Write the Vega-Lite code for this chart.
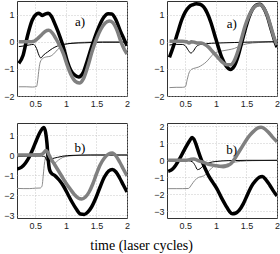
{
  "$schema": "https://vega.github.io/schema/vega-lite/v6.json",
  "padding": {"left": 3, "top": 0, "right": 0, "bottom": 0},
  "title": {"text": "time (laser cycles)", "orient": "bottom", "anchor": "middle", "font": "Liberation Serif", "fontSize": 14, "fontWeight": "normal", "color": "#000", "offset": 8},
  "datasets": {
    "lines": [
      {"p":"A1","s":"1tg","x":0.23,"y":-1.66},{"p":"A1","s":"1tg","x":0.35,"y":-1.66},{"p":"A1","s":"1tg","x":0.45,"y":-1.67},{"p":"A1","s":"1tg","x":0.52,"y":-1.65},{"p":"A1","s":"1tg","x":0.54,"y":-1.4},{"p":"A1","s":"1tg","x":0.56,"y":-1.0},{"p":"A1","s":"1tg","x":0.58,"y":-0.75},{"p":"A1","s":"1tg","x":0.62,"y":-0.62},{"p":"A1","s":"1tg","x":0.68,"y":-0.56},{"p":"A1","s":"1tg","x":0.74,"y":-0.54},{"p":"A1","s":"1tg","x":0.8,"y":-0.45},{"p":"A1","s":"1tg","x":0.86,"y":-0.3},{"p":"A1","s":"1tg","x":0.92,"y":-0.18},{"p":"A1","s":"1tg","x":1.0,"y":-0.1},{"p":"A1","s":"1tg","x":1.1,"y":-0.05},{"p":"A1","s":"1tg","x":1.3,"y":-0.02},{"p":"A1","s":"1tg","x":1.6,"y":0},{"p":"A1","s":"1tg","x":2.0,"y":0},
      {"p":"A1","s":"2tb","x":0.23,"y":-0.18},{"p":"A1","s":"2tb","x":0.3,"y":-0.16},{"p":"A1","s":"2tb","x":0.4,"y":-0.12},{"p":"A1","s":"2tb","x":0.47,"y":-0.1},{"p":"A1","s":"2tb","x":0.52,"y":-0.25},{"p":"A1","s":"2tb","x":0.56,"y":-0.5},{"p":"A1","s":"2tb","x":0.59,"y":-0.6},{"p":"A1","s":"2tb","x":0.63,"y":-0.5},{"p":"A1","s":"2tb","x":0.7,"y":-0.38},{"p":"A1","s":"2tb","x":0.78,"y":-0.25},{"p":"A1","s":"2tb","x":0.86,"y":-0.16},{"p":"A1","s":"2tb","x":0.95,"y":-0.1},{"p":"A1","s":"2tb","x":1.1,"y":-0.06},{"p":"A1","s":"2tb","x":1.3,"y":-0.04},{"p":"A1","s":"2tb","x":1.6,"y":-0.02},{"p":"A1","s":"2tb","x":2.0,"y":-0.02},
      {"p":"A1","s":"3kb","x":0.23,"y":-0.8},{"p":"A1","s":"3kb","x":0.3,"y":-0.5},{"p":"A1","s":"3kb","x":0.37,"y":0.2},{"p":"A1","s":"3kb","x":0.45,"y":0.8},{"p":"A1","s":"3kb","x":0.52,"y":1.02},{"p":"A1","s":"3kb","x":0.56,"y":1.05},{"p":"A1","s":"3kb","x":0.61,"y":0.97},{"p":"A1","s":"3kb","x":0.66,"y":1.02},{"p":"A1","s":"3kb","x":0.71,"y":1.05},{"p":"A1","s":"3kb","x":0.76,"y":0.95},{"p":"A1","s":"3kb","x":0.83,"y":0.6},{"p":"A1","s":"3kb","x":0.9,"y":0.2},{"p":"A1","s":"3kb","x":0.96,"y":-0.2},{"p":"A1","s":"3kb","x":1.02,"y":-0.7},{"p":"A1","s":"3kb","x":1.08,"y":-1.05},{"p":"A1","s":"3kb","x":1.14,"y":-1.22},{"p":"A1","s":"3kb","x":1.21,"y":-1.3},{"p":"A1","s":"3kb","x":1.28,"y":-1.15},{"p":"A1","s":"3kb","x":1.35,"y":-0.7},{"p":"A1","s":"3kb","x":1.42,"y":-0.2},{"p":"A1","s":"3kb","x":1.48,"y":0.2},{"p":"A1","s":"3kb","x":1.55,"y":0.6},{"p":"A1","s":"3kb","x":1.62,"y":0.9},{"p":"A1","s":"3kb","x":1.69,"y":1.03},{"p":"A1","s":"3kb","x":1.75,"y":1.02},{"p":"A1","s":"3kb","x":1.82,"y":0.8},{"p":"A1","s":"3kb","x":1.89,"y":0.4},{"p":"A1","s":"3kb","x":1.95,"y":0.1},{"p":"A1","s":"3kb","x":2.0,"y":-0.15},
      {"p":"A1","s":"4kg","x":0.23,"y":0},{"p":"A1","s":"4kg","x":0.3,"y":0},{"p":"A1","s":"4kg","x":0.4,"y":0},{"p":"A1","s":"4kg","x":0.48,"y":0.02},{"p":"A1","s":"4kg","x":0.53,"y":0.1},{"p":"A1","s":"4kg","x":0.6,"y":0.25},{"p":"A1","s":"4kg","x":0.66,"y":0.38},{"p":"A1","s":"4kg","x":0.72,"y":0.42},{"p":"A1","s":"4kg","x":0.78,"y":0.32},{"p":"A1","s":"4kg","x":0.84,"y":0.1},{"p":"A1","s":"4kg","x":0.9,"y":-0.15},{"p":"A1","s":"4kg","x":0.96,"y":-0.45},{"p":"A1","s":"4kg","x":1.02,"y":-0.85},{"p":"A1","s":"4kg","x":1.08,"y":-1.2},{"p":"A1","s":"4kg","x":1.15,"y":-1.45},{"p":"A1","s":"4kg","x":1.22,"y":-1.52},{"p":"A1","s":"4kg","x":1.29,"y":-1.35},{"p":"A1","s":"4kg","x":1.36,"y":-0.9},{"p":"A1","s":"4kg","x":1.43,"y":-0.35},{"p":"A1","s":"4kg","x":1.5,"y":0.1},{"p":"A1","s":"4kg","x":1.57,"y":0.45},{"p":"A1","s":"4kg","x":1.64,"y":0.68},{"p":"A1","s":"4kg","x":1.71,"y":0.76},{"p":"A1","s":"4kg","x":1.77,"y":0.7},{"p":"A1","s":"4kg","x":1.84,"y":0.4},{"p":"A1","s":"4kg","x":1.9,"y":0.0},{"p":"A1","s":"4kg","x":1.96,"y":-0.3},{"p":"A1","s":"4kg","x":2.0,"y":-0.45},

      {"p":"A2","s":"1tg","x":0.24,"y":-1.69},{"p":"A2","s":"1tg","x":0.35,"y":-1.68},{"p":"A2","s":"1tg","x":0.45,"y":-1.68},{"p":"A2","s":"1tg","x":0.5,"y":-1.66},{"p":"A2","s":"1tg","x":0.53,"y":-1.4},{"p":"A2","s":"1tg","x":0.56,"y":-1.15},{"p":"A2","s":"1tg","x":0.6,"y":-1.02},{"p":"A2","s":"1tg","x":0.66,"y":-0.97},{"p":"A2","s":"1tg","x":0.72,"y":-0.93},{"p":"A2","s":"1tg","x":0.78,"y":-0.85},{"p":"A2","s":"1tg","x":0.84,"y":-0.75},{"p":"A2","s":"1tg","x":0.9,"y":-0.6},{"p":"A2","s":"1tg","x":0.96,"y":-0.45},{"p":"A2","s":"1tg","x":1.02,"y":-0.38},{"p":"A2","s":"1tg","x":1.1,"y":-0.34},{"p":"A2","s":"1tg","x":1.2,"y":-0.3},{"p":"A2","s":"1tg","x":1.3,"y":-0.25},{"p":"A2","s":"1tg","x":1.4,"y":-0.15},{"p":"A2","s":"1tg","x":1.5,"y":-0.08},{"p":"A2","s":"1tg","x":1.7,"y":-0.03},{"p":"A2","s":"1tg","x":2.0,"y":0},
      {"p":"A2","s":"2tb","x":0.24,"y":-0.12},{"p":"A2","s":"2tb","x":0.35,"y":-0.1},{"p":"A2","s":"2tb","x":0.45,"y":-0.1},{"p":"A2","s":"2tb","x":0.5,"y":-0.15},{"p":"A2","s":"2tb","x":0.55,"y":-0.32},{"p":"A2","s":"2tb","x":0.59,"y":-0.42},{"p":"A2","s":"2tb","x":0.63,"y":-0.35},{"p":"A2","s":"2tb","x":0.68,"y":-0.18},{"p":"A2","s":"2tb","x":0.75,"y":-0.1},{"p":"A2","s":"2tb","x":0.85,"y":-0.07},{"p":"A2","s":"2tb","x":1.0,"y":-0.05},{"p":"A2","s":"2tb","x":1.3,"y":-0.03},{"p":"A2","s":"2tb","x":1.6,"y":-0.01},{"p":"A2","s":"2tb","x":2.0,"y":0},
      {"p":"A2","s":"3kb","x":0.24,"y":-0.58},{"p":"A2","s":"3kb","x":0.3,"y":-0.2},{"p":"A2","s":"3kb","x":0.37,"y":0.3},{"p":"A2","s":"3kb","x":0.44,"y":0.8},{"p":"A2","s":"3kb","x":0.5,"y":1.1},{"p":"A2","s":"3kb","x":0.56,"y":1.28},{"p":"A2","s":"3kb","x":0.62,"y":1.36},{"p":"A2","s":"3kb","x":0.68,"y":1.4},{"p":"A2","s":"3kb","x":0.74,"y":1.38},{"p":"A2","s":"3kb","x":0.8,"y":1.28},{"p":"A2","s":"3kb","x":0.86,"y":1.05},{"p":"A2","s":"3kb","x":0.92,"y":0.7},{"p":"A2","s":"3kb","x":0.98,"y":0.25},{"p":"A2","s":"3kb","x":1.04,"y":-0.2},{"p":"A2","s":"3kb","x":1.1,"y":-0.6},{"p":"A2","s":"3kb","x":1.17,"y":-0.9},{"p":"A2","s":"3kb","x":1.24,"y":-1.02},{"p":"A2","s":"3kb","x":1.3,"y":-0.9},{"p":"A2","s":"3kb","x":1.36,"y":-0.55},{"p":"A2","s":"3kb","x":1.42,"y":-0.05},{"p":"A2","s":"3kb","x":1.48,"y":0.45},{"p":"A2","s":"3kb","x":1.54,"y":0.9},{"p":"A2","s":"3kb","x":1.6,"y":1.2},{"p":"A2","s":"3kb","x":1.66,"y":1.35},{"p":"A2","s":"3kb","x":1.72,"y":1.38},{"p":"A2","s":"3kb","x":1.78,"y":1.25},{"p":"A2","s":"3kb","x":1.84,"y":0.95},{"p":"A2","s":"3kb","x":1.9,"y":0.5},{"p":"A2","s":"3kb","x":1.96,"y":0.05},{"p":"A2","s":"3kb","x":2.0,"y":-0.2},
      {"p":"A2","s":"4kg","x":0.24,"y":0.02},{"p":"A2","s":"4kg","x":0.35,"y":0.02},{"p":"A2","s":"4kg","x":0.45,"y":0.02},{"p":"A2","s":"4kg","x":0.52,"y":0.0},{"p":"A2","s":"4kg","x":0.56,"y":-0.05},{"p":"A2","s":"4kg","x":0.6,"y":0.0},{"p":"A2","s":"4kg","x":0.65,"y":-0.02},{"p":"A2","s":"4kg","x":0.7,"y":-0.05},{"p":"A2","s":"4kg","x":0.76,"y":-0.05},{"p":"A2","s":"4kg","x":0.82,"y":-0.1},{"p":"A2","s":"4kg","x":0.88,"y":-0.2},{"p":"A2","s":"4kg","x":0.94,"y":-0.35},{"p":"A2","s":"4kg","x":1.0,"y":-0.5},{"p":"A2","s":"4kg","x":1.06,"y":-0.65},{"p":"A2","s":"4kg","x":1.12,"y":-0.78},{"p":"A2","s":"4kg","x":1.18,"y":-0.85},{"p":"A2","s":"4kg","x":1.24,"y":-0.85},{"p":"A2","s":"4kg","x":1.3,"y":-0.7},{"p":"A2","s":"4kg","x":1.36,"y":-0.35},{"p":"A2","s":"4kg","x":1.42,"y":0.12},{"p":"A2","s":"4kg","x":1.48,"y":0.6},{"p":"A2","s":"4kg","x":1.54,"y":0.95},{"p":"A2","s":"4kg","x":1.6,"y":1.2},{"p":"A2","s":"4kg","x":1.66,"y":1.33},{"p":"A2","s":"4kg","x":1.72,"y":1.36},{"p":"A2","s":"4kg","x":1.78,"y":1.25},{"p":"A2","s":"4kg","x":1.84,"y":0.98},{"p":"A2","s":"4kg","x":1.9,"y":0.55},{"p":"A2","s":"4kg","x":1.96,"y":0.1},{"p":"A2","s":"4kg","x":2.0,"y":-0.12},

      {"p":"B1","s":"1tg","x":0.2,"y":-1.67},{"p":"B1","s":"1tg","x":0.3,"y":-1.68},{"p":"B1","s":"1tg","x":0.4,"y":-1.68},{"p":"B1","s":"1tg","x":0.5,"y":-1.66},{"p":"B1","s":"1tg","x":0.58,"y":-1.65},{"p":"B1","s":"1tg","x":0.61,"y":-1.55},{"p":"B1","s":"1tg","x":0.63,"y":-1.0},{"p":"B1","s":"1tg","x":0.65,"y":-0.4},{"p":"B1","s":"1tg","x":0.68,"y":-0.05},{"p":"B1","s":"1tg","x":0.7,"y":0.0},{"p":"B1","s":"1tg","x":0.72,"y":-0.2},{"p":"B1","s":"1tg","x":0.76,"y":-0.35},{"p":"B1","s":"1tg","x":0.82,"y":-0.38},{"p":"B1","s":"1tg","x":0.88,"y":-0.25},{"p":"B1","s":"1tg","x":0.95,"y":-0.12},{"p":"B1","s":"1tg","x":1.05,"y":-0.05},{"p":"B1","s":"1tg","x":1.2,"y":-0.02},{"p":"B1","s":"1tg","x":1.5,"y":0},{"p":"B1","s":"1tg","x":2.0,"y":0},
      {"p":"B1","s":"2tb","x":0.2,"y":-0.08},{"p":"B1","s":"2tb","x":0.3,"y":-0.07},{"p":"B1","s":"2tb","x":0.45,"y":-0.05},{"p":"B1","s":"2tb","x":0.6,"y":-0.05},{"p":"B1","s":"2tb","x":0.66,"y":-0.1},{"p":"B1","s":"2tb","x":0.69,"y":-0.28},{"p":"B1","s":"2tb","x":0.72,"y":-0.25},{"p":"B1","s":"2tb","x":0.78,"y":-0.18},{"p":"B1","s":"2tb","x":0.86,"y":-0.12},{"p":"B1","s":"2tb","x":0.95,"y":-0.06},{"p":"B1","s":"2tb","x":1.1,"y":-0.02},{"p":"B1","s":"2tb","x":1.4,"y":0},{"p":"B1","s":"2tb","x":2.0,"y":0},
      {"p":"B1","s":"3kb","x":0.2,"y":-0.7},{"p":"B1","s":"3kb","x":0.27,"y":-0.62},{"p":"B1","s":"3kb","x":0.34,"y":-0.4},{"p":"B1","s":"3kb","x":0.4,"y":-0.1},{"p":"B1","s":"3kb","x":0.46,"y":0.3},{"p":"B1","s":"3kb","x":0.52,"y":0.75},{"p":"B1","s":"3kb","x":0.57,"y":1.1},{"p":"B1","s":"3kb","x":0.61,"y":1.3},{"p":"B1","s":"3kb","x":0.64,"y":1.38},{"p":"B1","s":"3kb","x":0.67,"y":1.1},{"p":"B1","s":"3kb","x":0.69,"y":0.6},{"p":"B1","s":"3kb","x":0.71,"y":-0.2},{"p":"B1","s":"3kb","x":0.73,"y":-0.7},{"p":"B1","s":"3kb","x":0.76,"y":-0.9},{"p":"B1","s":"3kb","x":0.82,"y":-1.03},{"p":"B1","s":"3kb","x":0.89,"y":-1.25},{"p":"B1","s":"3kb","x":0.96,"y":-1.55},{"p":"B1","s":"3kb","x":1.03,"y":-1.95},{"p":"B1","s":"3kb","x":1.1,"y":-2.35},{"p":"B1","s":"3kb","x":1.17,"y":-2.7},{"p":"B1","s":"3kb","x":1.24,"y":-2.95},{"p":"B1","s":"3kb","x":1.3,"y":-2.97},{"p":"B1","s":"3kb","x":1.36,"y":-2.85},{"p":"B1","s":"3kb","x":1.42,"y":-2.6},{"p":"B1","s":"3kb","x":1.49,"y":-2.15},{"p":"B1","s":"3kb","x":1.56,"y":-1.6},{"p":"B1","s":"3kb","x":1.63,"y":-1.1},{"p":"B1","s":"3kb","x":1.7,"y":-0.8},{"p":"B1","s":"3kb","x":1.76,"y":-0.72},{"p":"B1","s":"3kb","x":1.82,"y":-0.85},{"p":"B1","s":"3kb","x":1.88,"y":-1.15},{"p":"B1","s":"3kb","x":1.94,"y":-1.5},{"p":"B1","s":"3kb","x":2.0,"y":-1.85},
      {"p":"B1","s":"4kg","x":0.2,"y":0},{"p":"B1","s":"4kg","x":0.3,"y":0},{"p":"B1","s":"4kg","x":0.4,"y":0},{"p":"B1","s":"4kg","x":0.5,"y":0.01},{"p":"B1","s":"4kg","x":0.6,"y":0.03},{"p":"B1","s":"4kg","x":0.64,"y":0.12},{"p":"B1","s":"4kg","x":0.67,"y":0.22},{"p":"B1","s":"4kg","x":0.7,"y":0.15},{"p":"B1","s":"4kg","x":0.74,"y":-0.1},{"p":"B1","s":"4kg","x":0.8,"y":-0.4},{"p":"B1","s":"4kg","x":0.86,"y":-0.7},{"p":"B1","s":"4kg","x":0.93,"y":-1.05},{"p":"B1","s":"4kg","x":1.0,"y":-1.4},{"p":"B1","s":"4kg","x":1.07,"y":-1.7},{"p":"B1","s":"4kg","x":1.14,"y":-1.98},{"p":"B1","s":"4kg","x":1.2,"y":-2.15},{"p":"B1","s":"4kg","x":1.26,"y":-2.2},{"p":"B1","s":"4kg","x":1.32,"y":-2.1},{"p":"B1","s":"4kg","x":1.38,"y":-1.85},{"p":"B1","s":"4kg","x":1.44,"y":-1.45},{"p":"B1","s":"4kg","x":1.5,"y":-0.95},{"p":"B1","s":"4kg","x":1.56,"y":-0.5},{"p":"B1","s":"4kg","x":1.63,"y":-0.15},{"p":"B1","s":"4kg","x":1.7,"y":0.05},{"p":"B1","s":"4kg","x":1.76,"y":0.1},{"p":"B1","s":"4kg","x":1.82,"y":-0.05},{"p":"B1","s":"4kg","x":1.88,"y":-0.35},{"p":"B1","s":"4kg","x":1.94,"y":-0.7},{"p":"B1","s":"4kg","x":2.0,"y":-1.05},

      {"p":"B2","s":"1tg","x":0.22,"y":-1.67},{"p":"B2","s":"1tg","x":0.35,"y":-1.67},{"p":"B2","s":"1tg","x":0.45,"y":-1.67},{"p":"B2","s":"1tg","x":0.55,"y":-1.66},{"p":"B2","s":"1tg","x":0.6,"y":-1.45},{"p":"B2","s":"1tg","x":0.65,"y":-1.2},{"p":"B2","s":"1tg","x":0.72,"y":-1.0},{"p":"B2","s":"1tg","x":0.8,"y":-0.92},{"p":"B2","s":"1tg","x":0.87,"y":-0.7},{"p":"B2","s":"1tg","x":0.93,"y":-0.45},{"p":"B2","s":"1tg","x":1.0,"y":-0.32},{"p":"B2","s":"1tg","x":1.08,"y":-0.28},{"p":"B2","s":"1tg","x":1.15,"y":-0.25},{"p":"B2","s":"1tg","x":1.25,"y":-0.15},{"p":"B2","s":"1tg","x":1.4,"y":-0.06},{"p":"B2","s":"1tg","x":1.6,"y":-0.02},{"p":"B2","s":"1tg","x":2.0,"y":0},
      {"p":"B2","s":"2tb","x":0.22,"y":-0.02},{"p":"B2","s":"2tb","x":0.4,"y":-0.02},{"p":"B2","s":"2tb","x":0.55,"y":-0.02},{"p":"B2","s":"2tb","x":0.62,"y":-0.1},{"p":"B2","s":"2tb","x":0.66,"y":-0.3},{"p":"B2","s":"2tb","x":0.7,"y":-0.55},{"p":"B2","s":"2tb","x":0.74,"y":-0.5},{"p":"B2","s":"2tb","x":0.8,"y":-0.3},{"p":"B2","s":"2tb","x":0.88,"y":-0.15},{"p":"B2","s":"2tb","x":1.0,"y":-0.07},{"p":"B2","s":"2tb","x":1.2,"y":-0.02},{"p":"B2","s":"2tb","x":1.5,"y":0},{"p":"B2","s":"2tb","x":2.0,"y":0},
      {"p":"B2","s":"3kb","x":0.22,"y":-0.65},{"p":"B2","s":"3kb","x":0.28,"y":-0.55},{"p":"B2","s":"3kb","x":0.34,"y":-0.3},{"p":"B2","s":"3kb","x":0.4,"y":0.05},{"p":"B2","s":"3kb","x":0.46,"y":0.45},{"p":"B2","s":"3kb","x":0.52,"y":0.85},{"p":"B2","s":"3kb","x":0.57,"y":1.15},{"p":"B2","s":"3kb","x":0.61,"y":1.35},{"p":"B2","s":"3kb","x":0.64,"y":1.25},{"p":"B2","s":"3kb","x":0.68,"y":0.9},{"p":"B2","s":"3kb","x":0.72,"y":0.45},{"p":"B2","s":"3kb","x":0.76,"y":0.05},{"p":"B2","s":"3kb","x":0.82,"y":-0.45},{"p":"B2","s":"3kb","x":0.88,"y":-0.9},{"p":"B2","s":"3kb","x":0.95,"y":-1.3},{"p":"B2","s":"3kb","x":1.02,"y":-1.7},{"p":"B2","s":"3kb","x":1.09,"y":-2.2},{"p":"B2","s":"3kb","x":1.16,"y":-2.65},{"p":"B2","s":"3kb","x":1.22,"y":-3.0},{"p":"B2","s":"3kb","x":1.27,"y":-3.15},{"p":"B2","s":"3kb","x":1.32,"y":-3.12},{"p":"B2","s":"3kb","x":1.38,"y":-2.95},{"p":"B2","s":"3kb","x":1.45,"y":-2.55},{"p":"B2","s":"3kb","x":1.52,"y":-2.0},{"p":"B2","s":"3kb","x":1.58,"y":-1.55},{"p":"B2","s":"3kb","x":1.65,"y":-1.2},{"p":"B2","s":"3kb","x":1.71,"y":-1.0},{"p":"B2","s":"3kb","x":1.76,"y":-0.95},{"p":"B2","s":"3kb","x":1.82,"y":-1.15},{"p":"B2","s":"3kb","x":1.88,"y":-1.45},{"p":"B2","s":"3kb","x":1.94,"y":-1.8},{"p":"B2","s":"3kb","x":2.0,"y":-2.1},
      {"p":"B2","s":"4kg","x":0.22,"y":0},{"p":"B2","s":"4kg","x":0.35,"y":0},{"p":"B2","s":"4kg","x":0.5,"y":0},{"p":"B2","s":"4kg","x":0.58,"y":0.05},{"p":"B2","s":"4kg","x":0.64,"y":0.08},{"p":"B2","s":"4kg","x":0.7,"y":0.0},{"p":"B2","s":"4kg","x":0.76,"y":-0.08},{"p":"B2","s":"4kg","x":0.82,"y":-0.15},{"p":"B2","s":"4kg","x":0.9,"y":-0.25},{"p":"B2","s":"4kg","x":0.98,"y":-0.3},{"p":"B2","s":"4kg","x":1.05,"y":-0.35},{"p":"B2","s":"4kg","x":1.12,"y":-0.38},{"p":"B2","s":"4kg","x":1.18,"y":-0.33},{"p":"B2","s":"4kg","x":1.24,"y":-0.22},{"p":"B2","s":"4kg","x":1.3,"y":0.05},{"p":"B2","s":"4kg","x":1.36,"y":0.4},{"p":"B2","s":"4kg","x":1.42,"y":0.75},{"p":"B2","s":"4kg","x":1.48,"y":1.1},{"p":"B2","s":"4kg","x":1.55,"y":1.45},{"p":"B2","s":"4kg","x":1.62,"y":1.72},{"p":"B2","s":"4kg","x":1.68,"y":1.9},{"p":"B2","s":"4kg","x":1.74,"y":1.95},{"p":"B2","s":"4kg","x":1.8,"y":1.85},{"p":"B2","s":"4kg","x":1.86,"y":1.65},{"p":"B2","s":"4kg","x":1.92,"y":1.4},{"p":"B2","s":"4kg","x":2.0,"y":1.1}
    ],
    "labels": [
      {"p":"A1","x":1.23,"y":0.74,"t":"a)"},
      {"p":"A2","x":1.26,"y":0.67,"t":"a)"},
      {"p":"B1","x":1.23,"y":0.35,"t":"b)"},
      {"p":"B2","x":1.26,"y":0.6,"t":"b)"}
    ]
  },
  "columns": 2,
  "spacing": {"row": 12, "column": 22},
  "resolve": {"scale": {"x": "independent", "y": "independent"}},
  "concat": [
    {"width": 110, "height": 95,
     "encoding": {
       "x": {"field": "x", "type": "quantitative", "scale": {"domain": [0.2, 2], "nice": false, "zero": false}, "axis": {"values": [0.5, 1, 1.5, 2], "format": "~g", "title": null}},
       "y": {"field": "y", "type": "quantitative", "scale": {"domain": [-2, 1.5], "nice": false, "zero": false}, "axis": {"values": [-2, -1, 0, 1], "format": "~g", "title": null}}
     },
     "layer": [
       {"data": {"name": "lines"}, "transform": [{"filter": "datum.p === 'A1'"}],
        "mark": {"type": "line", "interpolate": "monotone", "clip": true},
        "encoding": {
          "color": {"field": "s", "type": "nominal", "scale": {"domain": ["1tg", "2tb", "3kb", "4kg"], "range": ["#8a8a8a", "#000000", "#000000", "#808080"]}, "legend": null},
          "strokeWidth": {"field": "s", "type": "nominal", "scale": {"type": "ordinal", "domain": ["1tg", "2tb", "3kb", "4kg"], "range": [1, 1, 3.5, 3.5]}, "legend": null}
        }},
       {"data": {"name": "labels"}, "transform": [{"filter": "datum.p === 'A1'"}],
        "mark": {"type": "text", "font": "Liberation Serif", "fontSize": 13, "color": "#000"},
        "encoding": {"text": {"field": "t"}}}
     ]},
    {"width": 110, "height": 95,
     "encoding": {
       "x": {"field": "x", "type": "quantitative", "scale": {"domain": [0.2, 2], "nice": false, "zero": false}, "axis": {"values": [0.5, 1, 1.5, 2], "format": "~g", "title": null}},
       "y": {"field": "y", "type": "quantitative", "scale": {"domain": [-2, 1.5], "nice": false, "zero": false}, "axis": {"values": [-2, -1, 0, 1], "format": "~g", "title": null}}
     },
     "layer": [
       {"data": {"name": "lines"}, "transform": [{"filter": "datum.p === 'A2'"}],
        "mark": {"type": "line", "interpolate": "monotone", "clip": true},
        "encoding": {
          "color": {"field": "s", "type": "nominal", "scale": {"domain": ["1tg", "2tb", "3kb", "4kg"], "range": ["#8a8a8a", "#000000", "#000000", "#808080"]}, "legend": null},
          "strokeWidth": {"field": "s", "type": "nominal", "scale": {"type": "ordinal", "domain": ["1tg", "2tb", "3kb", "4kg"], "range": [1, 1, 3.5, 3.5]}, "legend": null}
        }},
       {"data": {"name": "labels"}, "transform": [{"filter": "datum.p === 'A2'"}],
        "mark": {"type": "text", "font": "Liberation Serif", "fontSize": 13, "color": "#000"},
        "encoding": {"text": {"field": "t"}}}
     ]},
    {"width": 110, "height": 95,
     "encoding": {
       "x": {"field": "x", "type": "quantitative", "scale": {"domain": [0.2, 2], "nice": false, "zero": false}, "axis": {"values": [0.5, 1, 1.5, 2], "format": "~g", "title": null}},
       "y": {"field": "y", "type": "quantitative", "scale": {"domain": [-3.15, 1.6], "nice": false, "zero": false}, "axis": {"values": [-3, -2, -1, 0, 1], "format": "~g", "title": null}}
     },
     "layer": [
       {"data": {"name": "lines"}, "transform": [{"filter": "datum.p === 'B1'"}],
        "mark": {"type": "line", "interpolate": "monotone", "clip": true},
        "encoding": {
          "color": {"field": "s", "type": "nominal", "scale": {"domain": ["1tg", "2tb", "3kb", "4kg"], "range": ["#8a8a8a", "#000000", "#000000", "#808080"]}, "legend": null},
          "strokeWidth": {"field": "s", "type": "nominal", "scale": {"type": "ordinal", "domain": ["1tg", "2tb", "3kb", "4kg"], "range": [1, 1, 3.5, 3.5]}, "legend": null}
        }},
       {"data": {"name": "labels"}, "transform": [{"filter": "datum.p === 'B1'"}],
        "mark": {"type": "text", "font": "Liberation Serif", "fontSize": 13, "color": "#000"},
        "encoding": {"text": {"field": "t"}}}
     ]},
    {"width": 110, "height": 95,
     "encoding": {
       "x": {"field": "x", "type": "quantitative", "scale": {"domain": [0.2, 2], "nice": false, "zero": false}, "axis": {"values": [0.5, 1, 1.5, 2], "format": "~g", "title": null}},
       "y": {"field": "y", "type": "quantitative", "scale": {"domain": [-3.4, 2.2], "nice": false, "zero": false}, "axis": {"values": [-3, -2, -1, 0, 1, 2], "format": "~g", "title": null}}
     },
     "layer": [
       {"data": {"name": "lines"}, "transform": [{"filter": "datum.p === 'B2'"}],
        "mark": {"type": "line", "interpolate": "monotone", "clip": true},
        "encoding": {
          "color": {"field": "s", "type": "nominal", "scale": {"domain": ["1tg", "2tb", "3kb", "4kg"], "range": ["#8a8a8a", "#000000", "#000000", "#808080"]}, "legend": null},
          "strokeWidth": {"field": "s", "type": "nominal", "scale": {"type": "ordinal", "domain": ["1tg", "2tb", "3kb", "4kg"], "range": [1, 1, 3.5, 3.5]}, "legend": null}
        }},
       {"data": {"name": "labels"}, "transform": [{"filter": "datum.p === 'B2'"}],
        "mark": {"type": "text", "font": "Liberation Serif", "fontSize": 13, "color": "#000"},
        "encoding": {"text": {"field": "t"}}}
     ]}
  ],
  "config": {
    "view": {"stroke": "#333", "strokeWidth": 1},
    "axis": {"grid": true, "gridColor": "#bbbbbb", "gridDash": [1, 2], "gridWidth": 0.8, "domain": false, "ticks": false, "labelFont": "Liberation Sans", "labelFontSize": 9, "labelColor": "#222", "labelPadding": 3, "labelFlush": false, "labelOverlap": false}
  }
}
